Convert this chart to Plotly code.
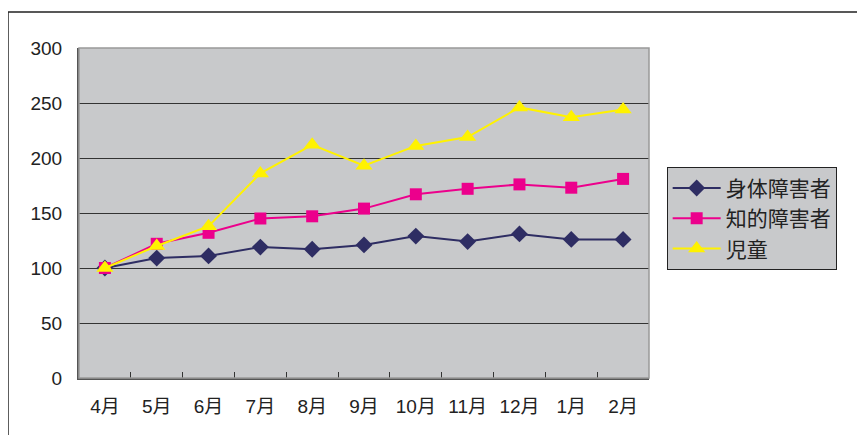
import plotly.graph_objects as go

months = ["4月", "5月", "6月", "7月", "8月", "9月", "10月", "11月", "12月", "1月", "2月"]
physical = [100, 109, 111, 119, 117, 121, 129, 124, 131, 126, 126]
intellectual = [100, 122, 132, 145, 147, 154, 167, 172, 176, 173, 181]
children = [100, 120, 138, 186, 212, 193, 211, 219, 246, 237, 244]

series_names = ["身体障害者", "知的障害者", "児童"]

FONT = "Liberation Sans, Arial, Noto Sans CJK JP, sans-serif"
BG = "#c8c9cb"

fig = go.Figure()
fig.add_trace(go.Scatter(x=months, y=physical, name=series_names[0], mode="lines+markers",
                         line=dict(color="#2e2d63", width=2),
                         marker=dict(symbol="diamond", size=13, color="#2e2d63")))
fig.add_trace(go.Scatter(x=months, y=intellectual, name=series_names[1], mode="lines+markers",
                         line=dict(color="#ec008c", width=2),
                         marker=dict(symbol="square", size=12, color="#ec008c")))
fig.add_trace(go.Scatter(x=months, y=children, name=series_names[2], mode="lines+markers",
                         line=dict(color="#fff200", width=2),
                         marker=dict(symbol="triangle-up", size=15, color="#fff200")))

fig.update_layout(
    width=865, height=435,
    margin=dict(l=71, r=224, t=40, b=65),
    paper_bgcolor="white", plot_bgcolor=BG,
    font=dict(family=FONT, size=19, color="#222"),
    showlegend=True,
    legend=dict(x=1.031, y=0.64, xanchor="left", yanchor="top",
                bgcolor=BG, bordercolor="#222", borderwidth=1,
                font=dict(size=21, family="Noto Sans CJK JP, sans-serif"),
                tracegroupgap=0, itemwidth=48),
    shapes=[dict(type="rect", xref="paper", yref="paper",
                 x0=-0.1246, x1=1.6, y0=-0.6, y1=1.109,
                 line=dict(color="#222", width=1.5), layer="below")],
)
fig.update_xaxes(type="category", range=[-0.5, len(months) - 0.5],
                 tickson="boundaries", ticks="inside", ticklen=6,
                 tickcolor="#333", showline=True, linecolor="#555", linewidth=2,
                 mirror=False, showgrid=False, ticklabelstandoff=10,
                 tickfont=dict(size=19, family="Liberation Sans, Noto Sans CJK JP, sans-serif"))
fig.update_yaxes(range=[0, 300], dtick=50, ticks="inside", ticklen=5, tickcolor="#333",
                 showline=True, linecolor="#555", linewidth=2,
                 showgrid=True, gridcolor="#333", gridwidth=1,
                 zeroline=False, ticklabelstandoff=11,
                 tickfont=dict(size=19))
# light frame on top/right of plot area
fig.add_shape(type="rect", xref="paper", yref="paper", x0=0, x1=1, y0=0, y1=1,
              line=dict(color="#999", width=1.5))

fig.write_html("out.html")
